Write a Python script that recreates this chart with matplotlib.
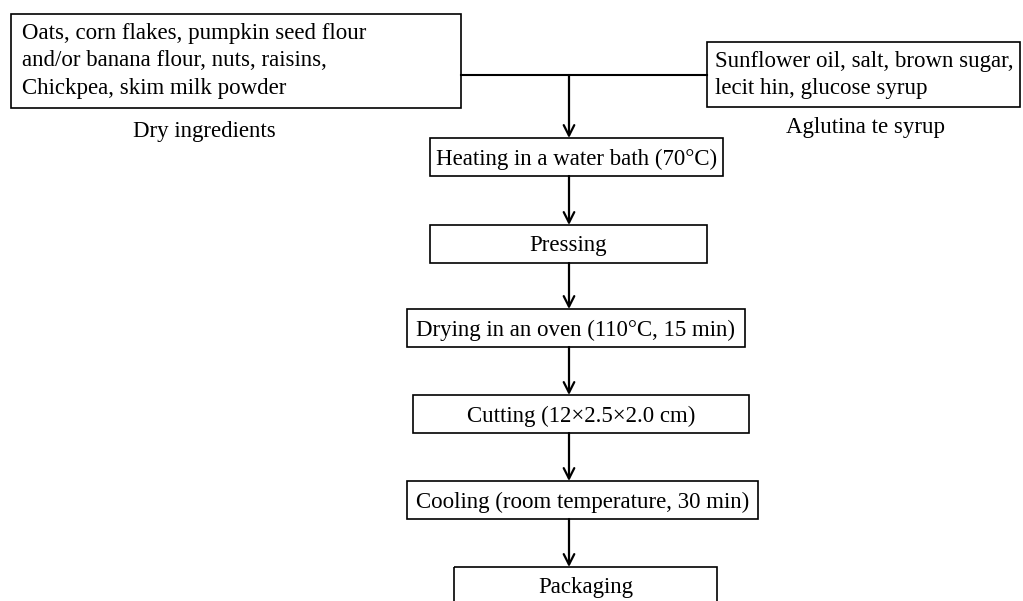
import matplotlib.pyplot as plt
from matplotlib.patches import Rectangle

# Flowchart content
dry_text = ["Oats, corn flakes, pumpkin seed flour",
            "and/or banana flour, nuts, raisins,",
            "Chickpea, skim milk powder"]
dry_label = "Dry ingredients"
syrup_text = ["Sunflower oil, salt, brown sugar,",
              "lecit hin, glucose syrup"]
syrup_label = "Aglutina te syrup"
steps = ["Heating in a water bath (70°C)",
         "Pressing",
         "Drying in an oven (110°C, 15 min)",
         "Cutting (12×2.5×2.0 cm)",
         "Cooling (room temperature, 30 min)",
         "Packaging"]

# layout in pixel coords (x0, x1, y0, y1)
step_boxes = [(430, 723, 138, 176),
              (430, 707, 225, 263),
              (407, 745, 309, 347),
              (413, 749, 395, 433),
              (407, 758, 481, 519),
              (454, 717, 567, 610)]
dry_box = (11, 461, 14, 108)
syrup_box = (707, 1020, 42, 107)
join_y = 75
arrow_x = 569

plt.rcParams['font.family'] = ['Liberation Serif', 'DejaVu Serif']
fs = 16.5
lw = 1.2

fig = plt.figure(figsize=(10.23, 6.01), dpi=100)
ax = fig.add_axes([0, 0, 1, 1])
ax.set_xlim(0, 1023)
ax.set_ylim(601, 0)
ax.axis('off')


def box(b):
    x0, x1, y0, y1 = b
    ax.add_patch(Rectangle((x0, y0), x1 - x0, y1 - y0, fill=False,
                           edgecolor='black', linewidth=lw, clip_on=True))


def arrow(x, y0, y1):
    ax.annotate('', xy=(x, y1), xytext=(x, y0),
                arrowprops=dict(arrowstyle='->,head_length=0.75,head_width=0.38',
                                color='black', lw=1.6, shrinkA=0, shrinkB=0))


# input boxes
box(dry_box)
for i, line in enumerate(dry_text):
    ax.text(dry_box[0] + 11, 33.5 + i * 27.5, line, fontsize=fs, va='center', ha='left')
ax.text(204, 131, dry_label, fontsize=fs, ha='center', va='center')

box(syrup_box)
for i, line in enumerate(syrup_text):
    ax.text(syrup_box[0] + 8, 61.5 + i * 27, line, fontsize=fs, va='center', ha='left')
ax.text(865, 128, syrup_label, fontsize=fs, ha='center', va='center')

# joining line and first arrow
ax.plot([dry_box[1], syrup_box[0]], [join_y, join_y], color='black', lw=1.5)
arrow(arrow_x, join_y, step_boxes[0][2])

# process steps
for i, (label, b) in enumerate(zip(steps, step_boxes)):
    box(b)
    yc = (b[2] + b[3]) / 2 + 2 if i < len(steps) - 1 else 587
    ax.text((b[0] + b[1]) / 2, yc, label, fontsize=fs, ha='center', va='center')
    if i < len(steps) - 1:
        arrow(arrow_x, b[3], step_boxes[i + 1][2])

plt.savefig("out.png", dpi=100)
